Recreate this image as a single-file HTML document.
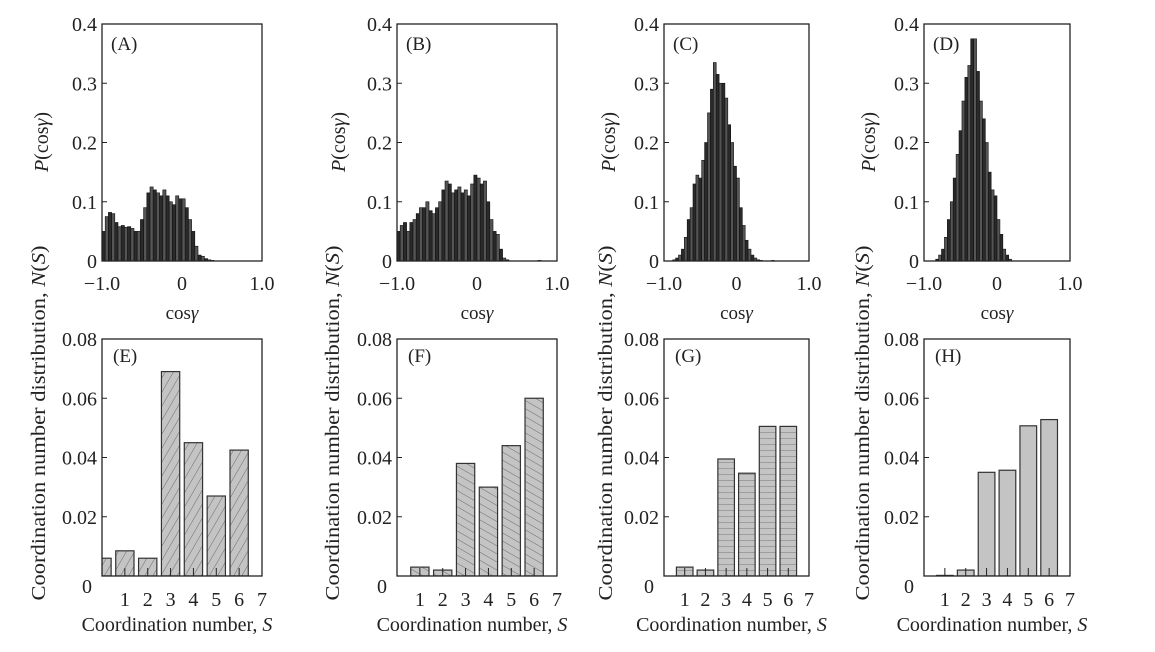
<!DOCTYPE html>
<html><head><meta charset="utf-8"><style>
html,body{margin:0;padding:0;background:#fff;}
svg{display:block;font-family:"Liberation Serif",serif;}
</style></head><body>
<svg id="fig" width="1155" height="652" viewBox="0 0 1155 652" xmlns="http://www.w3.org/2000/svg">
<defs>
<pattern id="hatchE" width="7" height="7" patternUnits="userSpaceOnUse" patternTransform="rotate(-60)"><rect width="7" height="7" fill="#c4c4c4"/><line x1="0" y1="0" x2="7" y2="0" stroke="#555" stroke-width="0.8"/></pattern>
<pattern id="hatchF" width="7" height="7" patternUnits="userSpaceOnUse" patternTransform="rotate(30)"><rect width="7" height="7" fill="#c4c4c4"/><line x1="0" y1="0" x2="7" y2="0" stroke="#555" stroke-width="0.8"/></pattern>
<pattern id="hatchG" width="6" height="6" patternUnits="userSpaceOnUse"><rect width="6" height="6" fill="#c4c4c4"/><line x1="0" y1="0" x2="6" y2="0" stroke="#777" stroke-width="1"/></pattern>
</defs>
</svg>
<script>
// ---- data ----
const binStart = -1.0;
const binWidth = 0.04;
const histA = [0.05,0.075,0.082,0.08,0.065,0.058,0.06,0.057,0.058,0.055,0.05,0.05,0.07,0.09,0.115,0.125,0.12,0.115,0.11,0.12,0.11,0.10,0.095,0.11,0.105,0.105,0.09,0.07,0.05,0.025,0.01,0.008,0.004,0.002,0.001,0,0,0,0,0,0,0,0,0,0,0,0,0,0,0];
const histB = [0.05,0.06,0.065,0.05,0.065,0.07,0.08,0.09,0.09,0.1,0.085,0.08,0.09,0.1,0.12,0.135,0.13,0.115,0.12,0.125,0.115,0.12,0.11,0.13,0.145,0.14,0.13,0.135,0.10,0.07,0.05,0.045,0.02,0.005,0.002,0,0,0,0,0,0,0,0,0,0.001,0,0,0,0,0];
const histC = [0,0,0,0.002,0.005,0.01,0.02,0.04,0.07,0.09,0.13,0.145,0.14,0.17,0.2,0.25,0.29,0.335,0.315,0.3,0.3,0.275,0.23,0.2,0.16,0.14,0.09,0.06,0.035,0.02,0.01,0.005,0.002,0.001,0,0,0,0.001,0,0,0,0,0,0,0,0,0,0,0,0];
const histD = [0,0,0,0,0.003,0.01,0.02,0.04,0.07,0.1,0.14,0.18,0.22,0.27,0.31,0.33,0.375,0.375,0.32,0.27,0.24,0.2,0.15,0.12,0.11,0.07,0.045,0.02,0.01,0.003,0,0,0,0,0,0,0,0,0,0,0,0,0,0,0,0,0,0,0,0];
const coordS = [0,1,2,3,4,5,6];
const coordE = [0.006,0.0085,0.006,0.069,0.045,0.027,0.0425];
const coordF = [0,0.003,0.002,0.038,0.030,0.044,0.060];
const coordG = [0,0.003,0.002,0.0395,0.0347,0.0505,0.0505];
const coordH = [0,0.0002,0.002,0.035,0.0357,0.0507,0.0528];
const histYTicks = [0,0.1,0.2,0.3,0.4];
const histYLabels = ["0","0.1","0.2","0.3","0.4"];
const histXTicks = [-1,0,1];
const histXLabels = ["\u22121.0","0","1.0"];
const coordYTicks = [0.02,0.04,0.06,0.08];
const coordYLabels = ["0.02","0.04","0.06","0.08"];
const coordXTicks = [1,2,3,4,5,6,7];
const coordXLabels = ["1","2","3","4","5","6","7"];

const NS = "http://www.w3.org/2000/svg";
const svg = document.getElementById('fig');
function mk(tag, attrs, parent){
  const e = document.createElementNS(NS, tag);
  for (const k in attrs) e.setAttribute(k, attrs[k]);
  (parent||svg).appendChild(e); return e;
}
function txt(s, attrs, parent){ const t = mk('text', attrs, parent); t.textContent = s; return t; }

const FS = 20;
const topPanels = [
  {id:'A', x0:102, x1:262, data:histA, ylab:48},
  {id:'B', x0:397, x1:557, data:histB, ylab:345},
  {id:'C', x0:664, x1:809, data:histC, ylab:615},
  {id:'D', x0:924, x1:1070, data:histD, ylab:875}
];
const botPanels = [
  {id:'E', x0:102, x1:262, data:coordE, fill:'url(#hatchE)', ylab:45},
  {id:'F', x0:397, x1:557, data:coordF, fill:'url(#hatchF)', ylab:339},
  {id:'G', x0:664, x1:809, data:coordG, fill:'url(#hatchG)', ylab:612},
  {id:'H', x0:924, x1:1070, data:coordH, fill:'#c4c4c4', ylab:869}
];

topPanels.forEach(p=>{
  const y0=261, y1=24;
  const g = mk('g',{});
  
  
  const xs = v => p.x0 + (v+1)/2*(p.x1-p.x0);
  const ys = v => y0 - v/0.4*(y0-y1);
  p.data.forEach((v,i)=>{
    if (v<=0) return;
    const a = binStart + i*binWidth;
    const r = mk('rect',{x:xs(a), y:ys(v), width:xs(a+binWidth)-xs(a), height:y0-ys(v), fill:(i%2? '#555':'#2a2a2a'), stroke:'#111', 'stroke-width':0.6}, g);
    
    
  });
  const frame = mk('rect',{x:p.x0, y:y1, width:p.x1-p.x0, height:y0-y1, fill:'none', stroke:'#222', 'stroke-width':1.3}, g);
  
  
  histYTicks.forEach((t,i)=>{
    mk('line',{x1:p.x0, x2:p.x0+5, y1:ys(t), y2:ys(t), stroke:'#222','stroke-width':1}, g);
    const l = txt(histYLabels[i],{x:p.x0-5, y:ys(t)+7, 'text-anchor':'end','font-size':FS, fill:'#222'}, g);
    
    
  });
  histXTicks.forEach((t,i)=>{
    const l = txt(histXLabels[i],{x:xs(t), y:290, 'text-anchor':'middle','font-size':FS, fill:'#222'}, g);
    
    
  });
  const xt = txt('cos',{x:(p.x0+p.x1)/2, y:319, 'text-anchor':'middle','font-size':19, fill:'#222'}, g);
  const gs = mk('tspan',{'font-style':'italic'}, xt); gs.textContent='\u03B3';
  
  
  const yt = txt('',{transform:`translate(${p.ylab},142) rotate(-90)`, 'text-anchor':'middle','font-size':20, fill:'#222'}, g);
  const t1 = mk('tspan',{'font-style':'italic'}, yt); t1.textContent='P';
  const t2 = mk('tspan',{}, yt); t2.textContent='(cos';
  const t3 = mk('tspan',{'font-style':'italic'}, yt); t3.textContent='\u03B3';
  const t4 = mk('tspan',{}, yt); t4.textContent=')';
  
  
  const pl = txt('('+p.id+')',{x:p.x0+9, y:50, 'font-size':19, fill:'#222'}, g);
  
  
});

botPanels.forEach(p=>{
  const y0=576, y1=339;
  const g = mk('g',{});
  
  
  const xs = v => p.x0 + v/7*(p.x1-p.x0);
  const ys = v => y0 - v/0.08*(y0-y1);
  const bw = 0.8;
  const cid = 'clip'+p.id;
  const cp = mk('clipPath',{id:cid}, g);
  mk('rect',{x:p.x0, y:y1, width:p.x1-p.x0, height:y0-y1}, cp);
  const bg = mk('g',{'clip-path':`url(#${cid})`}, g);
  coordS.forEach((s,i)=>{
    const v = p.data[i];
    if (v<=0) return;
    const r = mk('rect',{x:xs(s-bw/2), y:ys(v), width:xs(s+bw/2)-xs(s-bw/2), height:y0-ys(v), fill:p.fill, stroke:'#333','stroke-width':1.2}, bg);
    
    
  });
  coordXTicks.forEach(t=>{
    mk('line',{x1:xs(t), x2:xs(t), y1:y0, y2:y0-8, stroke:'#222','stroke-width':1}, g);
  });
  const frame = mk('rect',{x:p.x0, y:y1, width:p.x1-p.x0, height:y0-y1, fill:'none', stroke:'#222', 'stroke-width':1.3}, g);
  
  
  coordYTicks.forEach((t,i)=>{
    mk('line',{x1:p.x0, x2:p.x0+5, y1:ys(t), y2:ys(t), stroke:'#222','stroke-width':1}, g);
    const l = txt(coordYLabels[i],{x:p.x0-5, y:ys(t)+7, 'text-anchor':'end','font-size':FS, fill:'#222'}, g);
    
    
  });
  const z = txt('0',{x:p.x0-10, y:593, 'text-anchor':'end','font-size':FS, fill:'#222'}, g);
  
  
  coordXTicks.forEach((t,i)=>{
    const l = txt(coordXLabels[i],{x:xs(t), y:606, 'text-anchor':'middle','font-size':FS, fill:'#222'}, g);
    
    
  });
  const xt = txt('Coordination number, ',{x:(p.x0+p.x1)/2-5, y:631, 'text-anchor':'middle','font-size':20, fill:'#222'}, g);
  const s = mk('tspan',{'font-style':'italic'}, xt); s.textContent='S';
  
  
  const yt = txt('Coordination number distribution, ',{transform:`translate(${p.ylab},423) rotate(-90)`, 'text-anchor':'middle','font-size':20, fill:'#222', textLength:355, lengthAdjust:'spacingAndGlyphs'}, g);
  const n1 = mk('tspan',{'font-style':'italic'}, yt); n1.textContent='N';
  const n2 = mk('tspan',{}, yt); n2.textContent='(';
  const n3 = mk('tspan',{'font-style':'italic'}, yt); n3.textContent='S';
  const n4 = mk('tspan',{}, yt); n4.textContent=')';
  
  
  const pl = txt('('+p.id+')',{x:p.x0+11, y:362, 'font-size':19, fill:'#222'}, g);
  
  
});
</script>
</body></html>
